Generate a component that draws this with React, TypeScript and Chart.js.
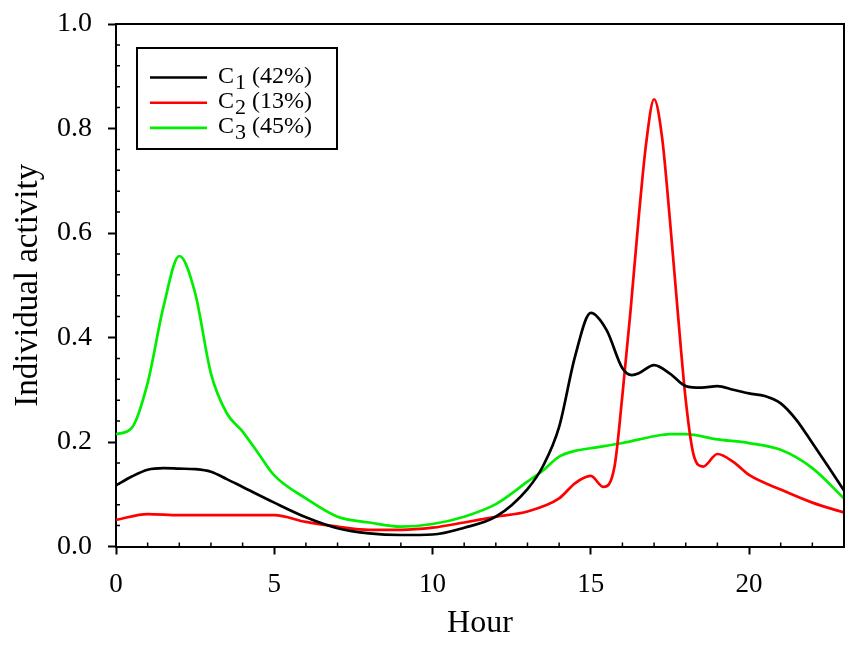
import { useEffect, useRef } from 'react'
import { Chart, registerables } from 'chart.js'
Chart.register(...registerables)

// C1 (black)
const c1Hours = [0, 0.5, 1, 1.5, 2, 2.5, 3, 3.5, 4, 5, 6, 7, 8, 9, 10, 11, 12, 13, 13.5, 14, 14.5, 15, 15.5, 16, 16.3, 16.5, 17, 17.5, 18, 18.5, 19, 19.5, 20, 20.5, 21, 21.5, 22, 22.5, 23]
const c1Values = [0.117, 0.134, 0.147, 0.150, 0.149, 0.148, 0.143, 0.129, 0.114, 0.084, 0.056, 0.035, 0.025, 0.022, 0.023, 0.036, 0.057, 0.110, 0.155, 0.229, 0.363, 0.447, 0.414, 0.341, 0.328, 0.331, 0.347, 0.331, 0.307, 0.304, 0.307, 0.300, 0.293, 0.288, 0.274, 0.242, 0.198, 0.153, 0.107]

// C2 (red)
const c2Hours = [0, 1, 2, 3, 4, 5, 6, 7, 8, 9, 10, 11, 12, 13, 14, 14.5, 15, 15.4, 15.75, 16, 16.25, 16.5, 16.75, 17, 17.25, 17.5, 17.75, 18, 18.25, 18.55, 19, 19.5, 20, 21, 22, 23]
const c2Values = [0.051, 0.062, 0.060, 0.060, 0.060, 0.060, 0.047, 0.038, 0.032, 0.032, 0.036, 0.046, 0.057, 0.067, 0.092, 0.121, 0.135, 0.114, 0.153, 0.290, 0.447, 0.620, 0.772, 0.856, 0.784, 0.625, 0.447, 0.280, 0.175, 0.153, 0.177, 0.162, 0.137, 0.109, 0.084, 0.065]

// C3 (green)
const c3Hours = [0, 0.5, 1, 1.5, 2, 2.5, 3, 3.5, 4, 4.5, 5, 6, 7, 8, 9, 10, 11, 12, 13, 13.5, 14, 14.5, 15, 16, 17, 17.5, 18, 19, 20, 21, 22, 23]
const c3Values = [0.215, 0.227, 0.313, 0.459, 0.556, 0.485, 0.331, 0.255, 0.220, 0.178, 0.136, 0.092, 0.057, 0.046, 0.038, 0.043, 0.057, 0.081, 0.124, 0.146, 0.172, 0.183, 0.188, 0.198, 0.211, 0.215, 0.215, 0.205, 0.198, 0.185, 0.150, 0.092]

const seriesNames = ['C', 'C', 'C']
const seriesSubs = ['1', '2', '3']
const seriesShares = ['(42%)', '(13%)', '(45%)']
const seriesColors = ['#000000', '#ff0000', '#00ee00']

const serif = "'Liberation Serif', 'Times New Roman', serif"

const toPoints = (xs: number[], ys: number[]) => xs.map((x, i) => ({ x, y: ys[i] }))

const framePlugin = {
  id: 'frame',
  afterDraw(chart: any) {
    const { ctx, chartArea: a, scales } = chart
    ctx.save()
    ctx.strokeStyle = '#000'
    ctx.lineWidth = 2
    ctx.beginPath()
    ctx.moveTo(a.left, a.top)
    ctx.lineTo(a.right, a.top)
    ctx.lineTo(a.right, a.bottom)
    ctx.stroke()

    // minor ticks, pointing inward
    ctx.lineWidth = 1.5
    ctx.beginPath()
    for (let v = 0.04; v < 1; v += 0.04) {
      if (Math.abs(v / 0.2 - Math.round(v / 0.2)) < 1e-6) continue
      const y = scales.y.getPixelForValue(v)
      ctx.moveTo(a.left, y)
      ctx.lineTo(a.left + 4, y)
    }
    for (let h = 1; h <= 23; h++) {
      if (h % 5 === 0) continue
      const x = scales.x.getPixelForValue(h)
      ctx.moveTo(x, a.bottom)
      ctx.lineTo(x, a.bottom - 4)
    }
    ctx.stroke()

    // legend
    const bx = a.left + 21, by = a.top + 24
    ctx.lineWidth = 2
    ctx.strokeRect(bx, by, 200, 101)
    chart.data.datasets.forEach((ds: any, i: number) => {
      const ly = by + 29.5 + i * 25.2
      ctx.strokeStyle = ds.borderColor
      ctx.lineWidth = 2.6
      ctx.beginPath()
      ctx.moveTo(bx + 13, ly)
      ctx.lineTo(bx + 70, ly)
      ctx.stroke()
      ctx.fillStyle = '#000'
      ctx.textBaseline = 'alphabetic'
      ctx.textAlign = 'left'
      let tx = bx + 81
      ctx.font = `24px ${serif}`
      ctx.fillText(seriesNames[i], tx, ly + 5)
      tx += ctx.measureText(seriesNames[i]).width + 1
      ctx.font = `22px ${serif}`
      ctx.fillText(seriesSubs[i], tx, ly + 11)
      tx += ctx.measureText(seriesSubs[i]).width
      ctx.font = `24px ${serif}`
      ctx.fillText(' ' + seriesShares[i], tx, ly + 5)
    })
    ctx.restore()
  },
}

export default function App() {
  const ref = useRef<HTMLCanvasElement>(null)
  const inst = useRef<Chart | null>(null)

  useEffect(() => {
    document.body.style.margin = '0'
    if (!ref.current) return
    inst.current?.destroy()
    inst.current = new Chart(ref.current, {
      type: 'line',
      data: {
        datasets: [
          { label: 'C1 (42%)', data: toPoints(c1Hours, c1Values) },
          { label: 'C2 (13%)', data: toPoints(c2Hours, c2Values) },
          { label: 'C3 (45%)', data: toPoints(c3Hours, c3Values) },
        ].map((d, i) => ({
          ...d,
          borderColor: seriesColors[i],
          backgroundColor: seriesColors[i],
          borderWidth: 2.7,
          pointRadius: 0,
          cubicInterpolationMode: 'monotone' as const,
          fill: false,
        })),
      },
      options: {
        responsive: true,
        maintainAspectRatio: false,
        animation: false,
        layout: { padding: { left: 0, right: 21, top: 24, bottom: 0 } },
        plugins: { legend: { display: false }, tooltip: { enabled: false } },
        scales: {
          x: {
            type: 'linear',
            min: 0,
            max: 23,
            afterBuildTicks: (s: any) => { s.ticks = s.ticks.filter((t: any) => t.value % 5 === 0) },
            afterFit: (s: any) => { s.height = 100.5; s.paddingLeft = 0; s.paddingRight = 0 },
            border: { color: '#000', width: 2 },
            grid: { drawOnChartArea: false, tickLength: 8, tickWidth: 2, tickColor: '#000' },
            ticks: { stepSize: 5, color: '#000', padding: 14, font: { family: serif, size: 27 }, maxRotation: 0 },
            title: { display: true, text: 'Hour', color: '#000', font: { family: serif, size: 32 }, padding: { top: 0, bottom: 4 } },
          },
          y: {
            min: 0,
            max: 1,
            afterFit: (s: any) => { s.width = 116; s.paddingTop = 0; s.paddingBottom = 0 },
            border: { color: '#000', width: 2 },
            grid: { drawOnChartArea: false, tickLength: 8, tickWidth: 2, tickColor: '#000' },
            ticks: { stepSize: 0.2, color: '#000', padding: 16, font: { family: serif, size: 28 }, callback: (v: any) => Number(v).toFixed(1) },
            title: { display: true, text: 'Individual activity', color: '#000', font: { family: serif, size: 33 }, padding: { top: 9, bottom: 0 } },
          },
        },
      },
      plugins: [framePlugin],
    })
    return () => { inst.current?.destroy() }
  }, [])

  return (
    <div style={{ width: 865, height: 647, background: '#fff' }}>
      <canvas ref={ref} />
    </div>
  )
}
